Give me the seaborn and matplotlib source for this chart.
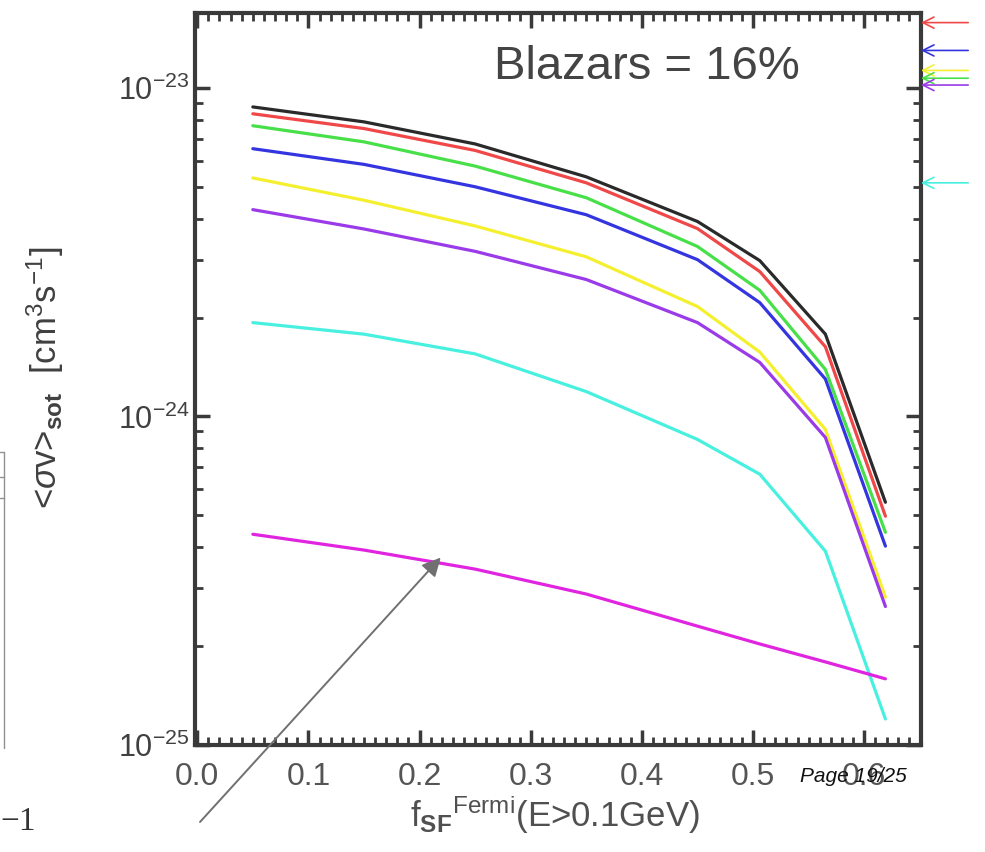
import numpy as np
import pandas as pd
import matplotlib
matplotlib.use("Agg")
import matplotlib.pyplot as plt
import seaborn as sns
from matplotlib.ticker import MultipleLocator, LogLocator, NullFormatter, FixedLocator, FixedFormatter

# ---------------- data ----------------
f_sf = [0.05, 0.15, 0.25, 0.35, 0.45, 0.506, 0.565, 0.619]

black   = [8.75e-24, 7.88e-24, 6.75e-24, 5.36e-24, 3.92e-24, 2.98e-24, 1.78e-24, 5.48e-25]
red     = [8.34e-24, 7.52e-24, 6.45e-24, 5.14e-24, 3.73e-24, 2.76e-24, 1.63e-24, 4.97e-25]
green   = [7.67e-24, 6.85e-24, 5.78e-24, 4.63e-24, 3.29e-24, 2.42e-24, 1.39e-24, 4.44e-25]
blue    = [6.53e-24, 5.85e-24, 5.00e-24, 4.11e-24, 3.00e-24, 2.22e-24, 1.30e-24, 4.03e-25]
yellow  = [5.32e-24, 4.55e-24, 3.80e-24, 3.06e-24, 2.16e-24, 1.57e-24, 9.13e-25, 2.82e-25]
purple  = [4.26e-24, 3.72e-24, 3.18e-24, 2.61e-24, 1.93e-24, 1.46e-24, 8.63e-25, 2.64e-25]
cyan    = [1.93e-24, 1.78e-24, 1.55e-24, 1.19e-24, 8.51e-25, 6.67e-25, 3.89e-25, 1.20e-25]
magenta = [4.38e-25, 3.92e-25, 3.43e-25, 2.88e-25, 2.30e-25, 2.03e-25, 1.79e-25, 1.59e-25]

series_names = ["black", "red", "green", "blue", "yellow", "purple", "cyan", "magenta"]
series_values = [black, red, green, blue, yellow, purple, cyan, magenta]
series_colors = ["#2a2a2a", "#f04848", "#48e048", "#3434e0", "#f4f030", "#9a3ae8", "#48f0e0", "#e024e0"]

# right-side arrow markers (values on the y scale)
arrow_names  = ["red", "blue", "yellow", "green", "purple", "cyan"]
arrow_values = [1.58e-23, 1.30e-23, 1.13e-23, 1.07e-23, 1.02e-23, 5.14e-24]

xticks = [0.0, 0.1, 0.2, 0.3, 0.4, 0.5, 0.6]
xtick_labels = ["0.0", "0.1", "0.2", "0.3", "0.4", "0.5", "0.6"]
yticks = [1e-25, 1e-24, 1e-23]
ytick_labels = [r"10$^{-25}$", r"10$^{-24}$", r"10$^{-23}$"]

# ---------------- figure ----------------
sns.set_style("ticks")
plt.rcParams["font.family"] = ["Liberation Sans", "DejaVu Sans"]
plt.rcParams["mathtext.fontset"] = "custom"
plt.rcParams["mathtext.rm"] = "Liberation Sans"
plt.rcParams["mathtext.it"] = "Liberation Sans:italic"
plt.rcParams["mathtext.bf"] = "Liberation Sans:bold"

fig = plt.figure(figsize=(9.85, 8.52), dpi=100)
ax = fig.add_axes([195/985, 1 - 745/852, (921 - 195)/985, (745 - 13)/852])

df = pd.DataFrame({
    "x": np.tile(f_sf, len(series_names)),
    "y": np.concatenate(series_values),
    "series": np.repeat(series_names, len(f_sf)),
})
sns.lineplot(data=df, x="x", y="y", hue="series", hue_order=series_names,
             palette=dict(zip(series_names, series_colors)), linewidth=2.3,
             legend=False, ax=ax, sort=False)

ax.set_yscale("log")
ax.set_xlim(-0.002, 0.651)
ax.set_ylim(1e-25, 1.69e-23)

axis_col = "#3a3a3a"
for s in ax.spines.values():
    s.set_linewidth(3)
    s.set_color(axis_col)

ax.xaxis.set_major_locator(FixedLocator(xticks))
ax.xaxis.set_major_formatter(FixedFormatter(xtick_labels))
ax.xaxis.set_minor_locator(MultipleLocator(0.01))
ax.yaxis.set_major_locator(FixedLocator(yticks))
ax.yaxis.set_major_formatter(FixedFormatter(ytick_labels))
ax.yaxis.set_minor_locator(LogLocator(base=10, subs=np.arange(2, 10), numticks=20))
ax.yaxis.set_minor_formatter(NullFormatter())

ax.tick_params(which="both", direction="in", top=True, right=True, color=axis_col)
ax.tick_params(which="major", length=11, width=2.5)
ax.tick_params(which="minor", length=6, width=2)
ax.tick_params(axis="x", which="major", labelsize=23, labelcolor="#555555", pad=12)
ax.tick_params(axis="y", which="major", labelsize=22, labelcolor="#404040", pad=4)

ax.set_xlabel("")
ax.set_ylabel("")

fig.text(555/985, 1 - 815/852, r"f$_{\mathbf{SF}}$$^{\mathrm{Fermi}}$(E>0.1GeV)",
         ha="center", va="center", fontsize=25, color="#505050")
fig.text(45/985, 1 - 378/852, r"<$\sigma$v>$_{\mathbf{sot}}$  [cm$^{3}$s$^{-1}$]",
         ha="center", va="center", rotation=90, fontsize=25, color="#404040")

ax.text(647/985, 1 - 67/852, "Blazars = 16%", transform=fig.transFigure,
        ha="center", va="center", fontsize=34, color="#444444")

# right-side arrows outside the frame
col_map = dict(zip(series_names, series_colors))
for nm, v in zip(arrow_names, arrow_values):
    ax.annotate("", xy=(1.0, v), xycoords=("axes fraction", "data"),
                xytext=(1.065, v), textcoords=("axes fraction", "data"),
                arrowprops=dict(arrowstyle="->", color=col_map[nm], lw=1.2,
                                mutation_scale=20, shrinkA=0, shrinkB=0),
                annotation_clip=False)

# grey pointer arrow from lower left
ax.annotate("", xy=(0.219, 3.72e-25), xycoords="data",
            xytext=(200/985, 1 - 822/852), textcoords="figure fraction",
            arrowprops=dict(arrowstyle="-|>", color="#707070", lw=1.4,
                            mutation_scale=28, shrinkA=0, shrinkB=0),
            annotation_clip=False)
fig.text(0.0, 1 - 822/852, "\u22121", ha="left", va="center", fontsize=24,
         family=["Liberation Serif", "DejaVu Serif"], color="#333333")

# fragments of slide background at left edge
fig.add_artist(plt.Line2D([4/985, 4/985], [1 - 452/852, 1 - 748/852],
                          transform=fig.transFigure, color="#909090", lw=1))
for yy in [452, 477, 498]:
    fig.add_artist(plt.Line2D([0, 4/985], [1 - yy/852, 1 - yy/852],
                              transform=fig.transFigure, color="#909090", lw=1))

fig.text(800/985, 1 - 777/852, "Page 19/25", ha="left", va="center",
         fontsize=15, style="italic", color="#111111")

fig.savefig("out.png", dpi=100)
